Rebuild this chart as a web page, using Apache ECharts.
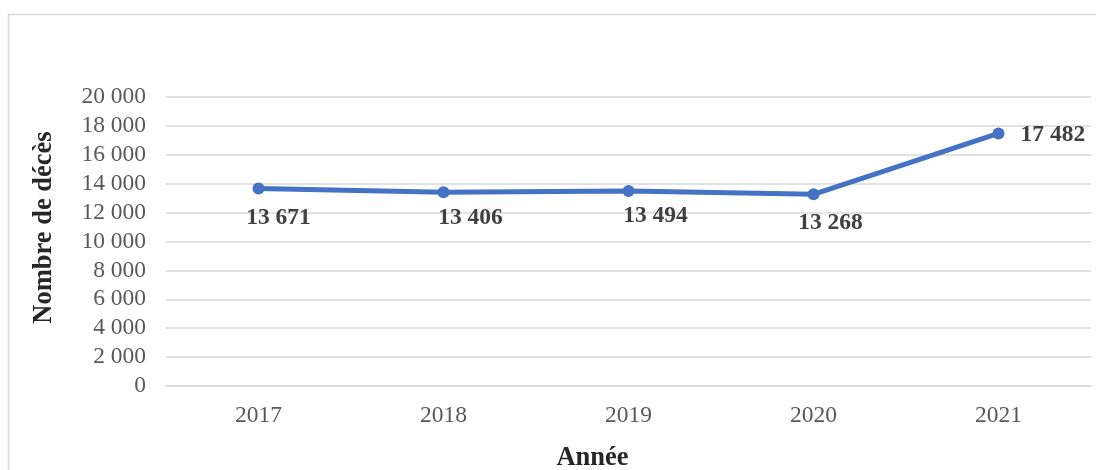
<!DOCTYPE html>
<html>
<head>
<meta charset="utf-8">
<script src="https://cdn.jsdelivr.net/npm/echarts@6/dist/echarts.min.js"></script>
<style>
  html, body { margin: 0; padding: 0; background: #fff; }
  #chart { width: 1096px; height: 470px; }
</style>
</head>
<body>
<div id="chart"></div>
<script>
// Décès annuels
const years = ['2017', '2018', '2019', '2020', '2021'];
const deaths = [13671, 13406, 13494, 13268, 17482];
const yTicks = [0, 2000, 4000, 6000, 8000, 10000, 12000, 14000, 16000, 18000, 20000];

// Placement of each value label relative to its point
const labelPlacement = [
  { position: 'bottom', distance: 5, offset: [20, 6] },
  { position: 'bottom', distance: 5, offset: [27, 3] },
  { position: 'bottom', distance: 5, offset: [27, 2] },
  { position: 'bottom', distance: 5, offset: [17, 6] },
  { position: 'right', distance: 16, offset: [0, 2] }
];

const FONT = "'Liberation Serif', 'Times New Roman', serif";
const fmt = v => String(v).replace(/\B(?=(\d{3})+(?!\d))/g, ' ');

const chart = echarts.init(document.getElementById('chart'));
chart.setOption({
  animation: false,
  backgroundColor: '#ffffff',
  graphic: [{
    type: 'rect',
    shape: { x: 8.5, y: 14.5, width: 1100, height: 470 },
    style: { fill: 'none', stroke: '#d9d9d9', lineWidth: 1.5 },
    silent: true
  }],
  grid: { left: 166, right: 5, top: 97, bottom: 84, containLabel: false, outerBoundsMode: 'none' },
  xAxis: {
    type: 'category',
    data: years,
    boundaryGap: true,
    axisLine: { show: true, lineStyle: { color: '#d9d9d9', width: 1.5 } },
    axisTick: { show: false },
    axisLabel: { color: '#595959', fontFamily: FONT, fontSize: 23.5, margin: 18 },
    name: 'Année',
    nameLocation: 'middle',
    nameGap: 59,
    nameTextStyle: { color: '#262626', fontFamily: FONT, fontSize: 26.5, fontWeight: 'bold', padding: [0, 72, 0, 0] }
  },
  yAxis: {
    type: 'value',
    min: yTicks[0],
    max: yTicks[yTicks.length - 1],
    interval: yTicks[1] - yTicks[0],
    axisLine: { show: false },
    axisTick: { show: false },
    splitLine: { lineStyle: { color: '#d9d9d9', width: 1.5 } },
    axisLabel: { color: '#595959', fontFamily: FONT, fontSize: 23.5, margin: 20, formatter: fmt },
    name: 'Nombre de décès',
    nameLocation: 'middle',
    nameGap: 108,
    nameRotate: 90,
    nameTextStyle: { color: '#262626', fontFamily: FONT, fontSize: 26.5, fontWeight: 'bold', padding: [0, 0, 0, 28] }
  },
  series: [{
    type: 'line',
    data: deaths.map((v, i) => ({ value: v, label: labelPlacement[i] })),
    symbol: 'circle',
    symbolSize: 12,
    lineStyle: { color: '#4472c4', width: 5 },
    itemStyle: { color: '#4472c4' },
    label: {
      show: true,
      color: '#404040',
      fontFamily: FONT,
      fontSize: 23.5,
      fontWeight: 'bold',
      formatter: p => fmt(p.value)
    }
  }]
});
</script>
</body>
</html>
